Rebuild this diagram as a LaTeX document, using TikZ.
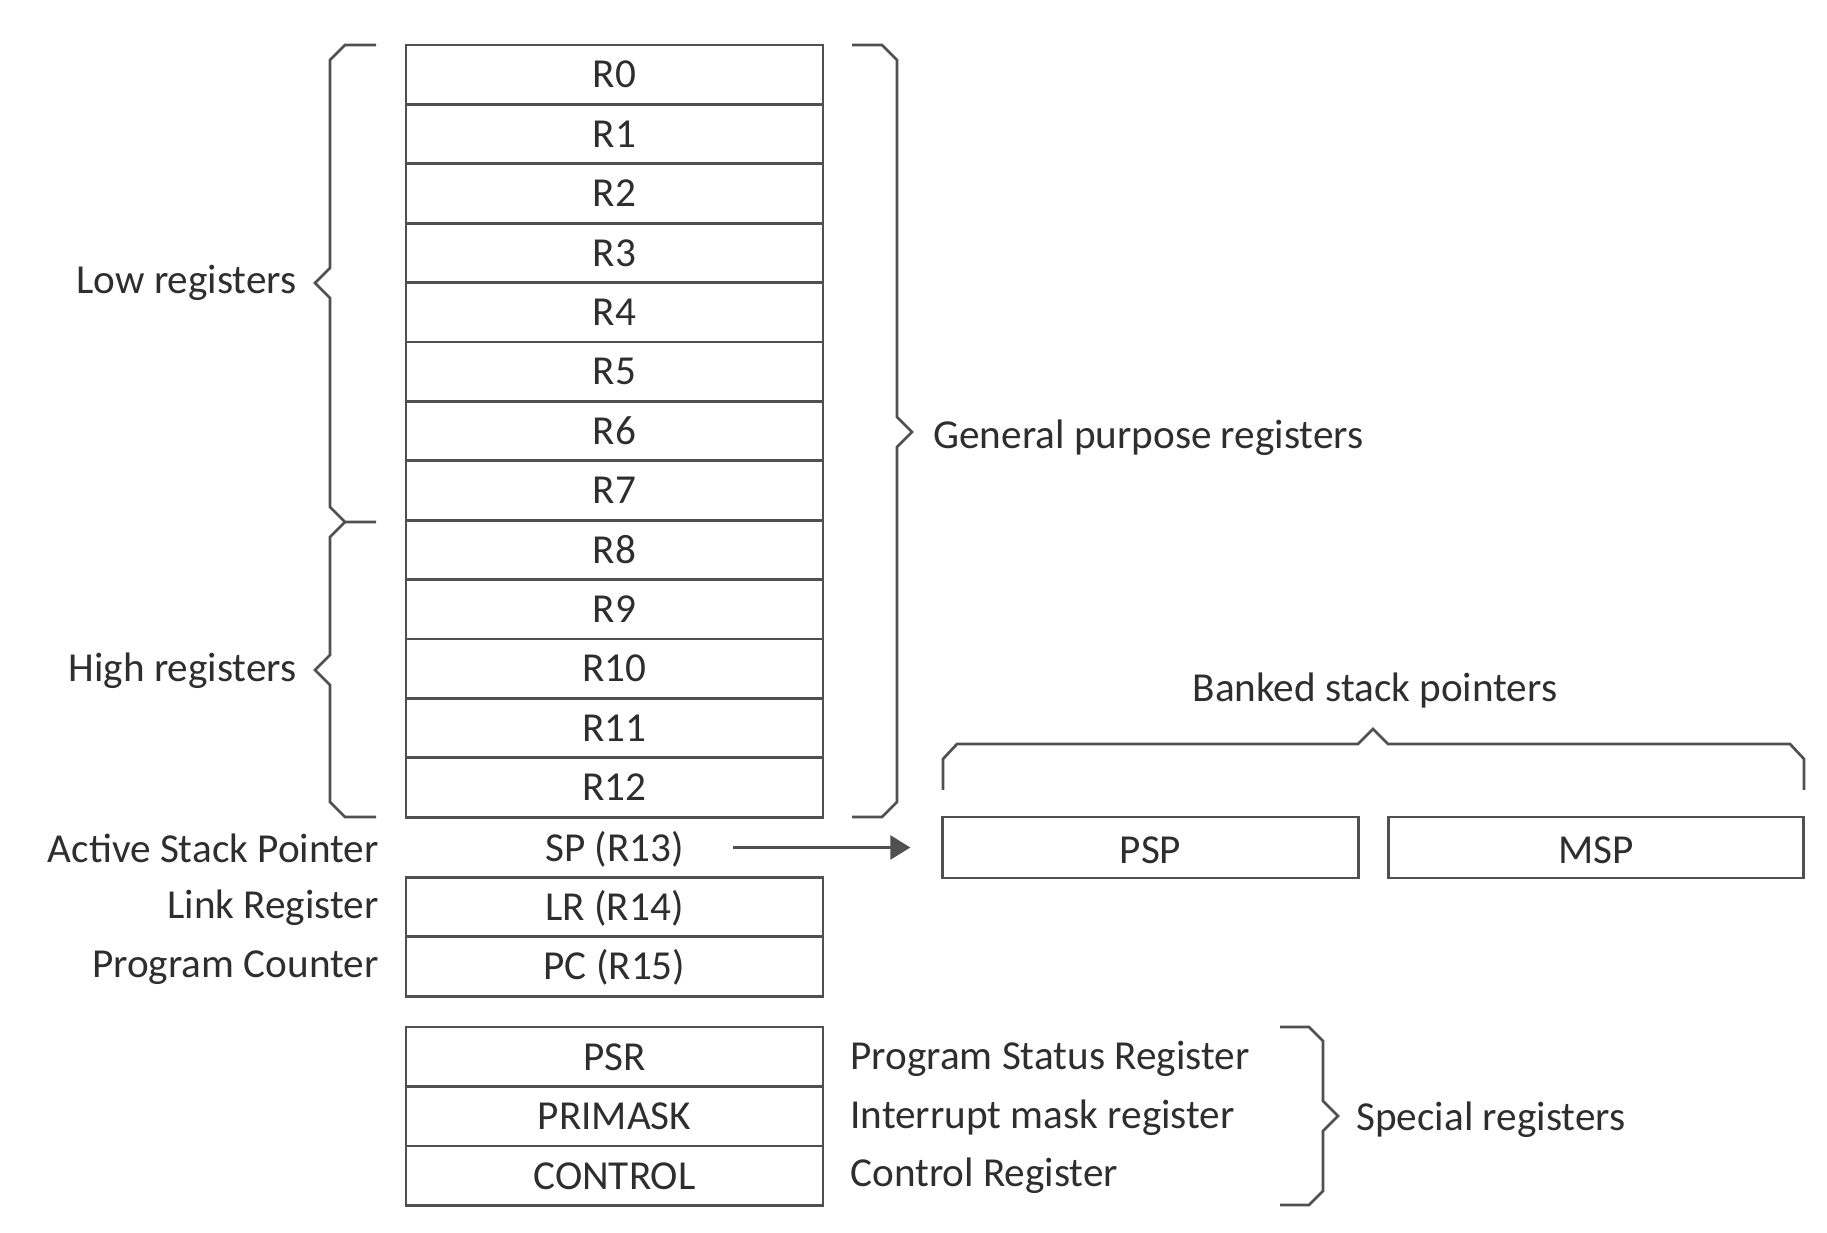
\documentclass[tikz,border=0pt]{standalone}
\usepackage{fontspec}
\setmainfont{Carlito}
\usetikzlibrary{arrows.meta}
\newcommand\lblfont{\fontsize{20.6bp}{25bp}\selectfont}
\definecolor{linecol}{HTML}{505050}
\definecolor{textcol}{HTML}{2E2E2E}
\begin{document}
\begin{tikzpicture}[x=0.5bp,y=-0.5bp,
  txt/.style={inner sep=0pt, text height=13.3bp, text depth=0pt, font=\lblfont, text=textcol},
  reg/.style={txt, draw=linecol, line width=1.35bp, minimum width=208.5bp, minimum height=29.7bp},
  regb/.style={reg, minimum height=29.75bp},
  bank/.style={reg, minimum width=207.8bp, minimum height=30.5bp, text height=16bp},
  brc/.style={draw=linecol, line width=1.35bp},
  arr/.style={draw=linecol, line width=1.35bp, -{Triangle[length=10bp,width=12bp]}}
]
\useasboundingbox (0,0) rectangle (1827,1233);

% general purpose registers
\foreach \i in {0,...,12}
  \node[reg] (r\i) at (614.5,{45+59.4*(\i+0.5)}) {R\i};

% SP, LR, PC
\node[txt] (sp) at (614.5,848) {SP (R13)};
\node[regb] (lr) at (614.5,907) {LR (R14)};
\node[regb] (pc) at (614.5,966.5) {PC (R15)};

% special registers
\node[regb] (psr) at (614.5,1056.75) {PSR};
\node[regb] (primask) at (614.5,1116.25) {PRIMASK};
\node[regb] (control) at (614.5,1175.75) {CONTROL};

% left labels
\node[txt, anchor=east] (lasp) at (379,849) {Active Stack Pointer};
\node[txt, anchor=east] (lalr) at (379,905) {Link Register};
\node[txt, anchor=east] (lapc) at (379,964) {Program Counter};
\node[txt, anchor=east] (lowl) at (297,280) {Low registers};
\node[txt, anchor=east] (highl) at (297,668) {High registers};

% right labels
\node[txt, anchor=west] (gpl) at (933,435) {General purpose registers};
\node[txt, anchor=west] (psrl) at (850,1056) {Program Status Register};
\node[txt, anchor=west] (priml) at (850,1115) {Interrupt mask register};
\node[txt, anchor=west] (ctrll) at (850,1173) {Control Register};
\node[txt, anchor=west] (specl) at (1356,1117) {Special registers};

% banked stack pointers
\node[bank] (psp) at (1150.5,847.5) {PSP};
\node[bank] (msp) at (1596,847.5) {MSP};
\node[txt] (bankl) at (1375,688) {Banked stack pointers};

% arrow SP -> PSP
\coordinate (spout) at (733,847.5);
\draw[arr, shorten >=15.5bp] (spout) -- (psp.west);

% braces
\draw[brc] (376,45) -- (345,45) -- (330,60) -- (330,268) -- (315,283) -- (330,298) -- (330,507) -- (345,522) -- (376,522);
\draw[brc] (345,522) -- (330,537) -- (330,655) -- (315,670) -- (330,685) -- (330,802) -- (345,817) -- (376,817);
\draw[brc] (852,45) -- (882,45) -- (897,60) -- (897,417) -- (912,432) -- (897,447) -- (897,802) -- (882,817) -- (852,817);
\draw[brc] (943,790) -- (943,759) -- (957,744) -- (1358,744) -- (1373,729) -- (1388,744) -- (1790,744) -- (1804,759) -- (1804,790);
\draw[brc] (1280,1027) -- (1309,1027) -- (1323,1041) -- (1323,1101) -- (1338,1116) -- (1323,1131) -- (1323,1191) -- (1309,1205) -- (1280,1205);
\end{tikzpicture}
\end{document}
